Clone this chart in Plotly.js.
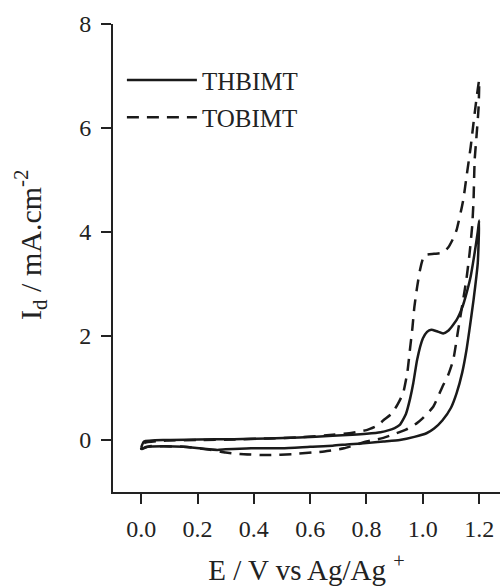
<!DOCTYPE html>
<html>
<head>
<meta charset="utf-8">
<script src="https://cdn.plot.ly/plotly-3.0.1.min.js"></script>
<style>html,body{margin:0;padding:0;background:#fff;}#chart{width:501px;height:586px;}</style>
</head>
<body>
<div id="chart"></div>
<script>
// THBIMT (solid) cyclic voltammogram: forward scan then return scan
var thbimtE = [0.0, 0.01, 0.09, 0.2, 0.33, 0.45, 0.56, 0.68, 0.75, 0.8, 0.85, 0.88, 0.9, 0.918, 0.94, 0.955, 0.966, 0.98, 1.0, 1.015, 1.03, 1.05, 1.072, 1.09, 1.12, 1.14, 1.155, 1.17, 1.184, 1.195, 1.2,
  1.195, 1.18, 1.165, 1.155, 1.14, 1.12, 1.1, 1.07, 1.04, 1.013, 0.97, 0.918, 0.86, 0.8, 0.74, 0.68, 0.6, 0.5, 0.39, 0.3, 0.27, 0.21, 0.15, 0.08, 0.02, 0.0];
var thbimtI = [-0.15, -0.03, 0.0, 0.01, 0.015, 0.03, 0.05, 0.08, 0.1, 0.12, 0.15, 0.19, 0.23, 0.29, 0.5, 0.8, 1.09, 1.55, 1.95, 2.08, 2.12, 2.09, 2.05, 2.1, 2.31, 2.55, 2.82, 3.15, 3.6, 4.0, 4.22,
  3.4, 2.69, 2.1, 1.73, 1.3, 0.9, 0.62, 0.38, 0.22, 0.13, 0.06, 0.0, -0.03, -0.06, -0.08, -0.11, -0.13, -0.16, -0.16, -0.18, -0.19, -0.16, -0.13, -0.12, -0.13, -0.18];

// TOBIMT (dashed)
var tobimtE = [0.0, 0.01, 0.09, 0.2, 0.33, 0.45, 0.56, 0.68, 0.75, 0.8, 0.84, 0.86, 0.89, 0.91, 0.93, 0.945, 0.954, 0.963, 0.97, 0.98, 0.99, 1.0, 1.01, 1.04, 1.07, 1.09, 1.11, 1.12, 1.143, 1.155, 1.17, 1.18, 1.19, 1.2,
  1.198, 1.19, 1.184, 1.18, 1.175, 1.166, 1.155, 1.143, 1.125, 1.108, 1.09, 1.07, 1.037, 1.0, 0.978, 0.94, 0.907, 0.86, 0.8, 0.72, 0.65, 0.54, 0.45, 0.35, 0.3, 0.245, 0.15, 0.08, 0.03, 0.0];
var tobimtI = [-0.17, -0.06, -0.01, 0.0, 0.01, 0.03, 0.05, 0.1, 0.14, 0.19, 0.28, 0.38, 0.51, 0.68, 0.9, 1.3, 1.73, 2.15, 2.56, 2.95, 3.27, 3.48, 3.56, 3.58, 3.6, 3.7, 3.9, 4.04, 4.6, 5.06, 5.64, 6.1, 6.54, 6.92,
  6.4, 5.8, 5.38, 4.6, 4.1, 3.59, 3.1, 2.69, 2.1, 1.54, 1.25, 1.03, 0.64, 0.42, 0.32, 0.2, 0.13, 0.04, -0.03, -0.16, -0.22, -0.27, -0.29, -0.27, -0.24, -0.19, -0.13, -0.12, -0.12, -0.17];

var xTickVals = [0.0, 0.2, 0.4, 0.6, 0.8, 1.0, 1.2];
var xTickText = ['0.0', '0.2', '0.4', '0.6', '0.8', '1.0', '1.2'];
var yTickVals = [0, 2, 4, 6, 8];
var yTickText = ['0', '2', '4', '6', '8'];

var FONT = "'Liberation Serif', 'Times New Roman', serif";

var traces = [
  {x: thbimtE, y: thbimtI, name: 'THBIMT', type: 'scatter', mode: 'lines',
   line: {color: '#1a1a1a', width: 2.5, shape: 'spline', smoothing: 0.5}, legend: 'legend'},
  {x: tobimtE, y: tobimtI, name: 'TOBIMT', type: 'scatter', mode: 'lines',
   line: {color: '#1a1a1a', width: 2.5, dash: '12px,8px', shape: 'spline', smoothing: 0.5}, legend: 'legend2'}
];

var layout = {
  width: 501, height: 586,
  margin: {l: 113, r: 1, t: 24, b: 94, pad: 0},
  paper_bgcolor: '#fff', plot_bgcolor: '#fff',
  font: {family: FONT, size: 22, color: '#222'},
  showlegend: true,
  xaxis: {
    range: [-0.1, 1.274], showgrid: false, zeroline: false,
    showline: true, linecolor: '#222', linewidth: 2,
    ticks: 'outside', ticklen: 10, tickwidth: 2, tickcolor: '#222',
    ticklabelstandoff: 4,
    tickvals: xTickVals, ticktext: xTickText,
    tickfont: {family: FONT, size: 24, color: '#222'},
    title: {text: 'E / V vs Ag/Ag <sup>+</sup>', font: {family: FONT, size: 29, color: '#222'}}
  },
  yaxis: {
    range: [-1, 8], showgrid: false, zeroline: false,
    showline: true, linecolor: '#222', linewidth: 2,
    ticks: 'outside', ticklen: 10, tickwidth: 2, tickcolor: '#222',
    ticklabelstandoff: 5,
    tickvals: yTickVals, ticktext: yTickText,
    tickfont: {family: FONT, size: 24, color: '#222'}
  },
  annotations: [{
    text: 'I<sub>d</sub> / mA.cm<sup>-2</sup>', textangle: -90,
    xref: 'paper', yref: 'paper', x: -0.212, y: 0.53, xanchor: 'center', yanchor: 'middle',
    showarrow: false, font: {family: FONT, size: 30, color: '#222'}
  }],
  legend: {x: 0.023, y: 0.88, xanchor: 'left', yanchor: 'middle', bgcolor: 'rgba(0,0,0,0)',
    itemwidth: 70, font: {family: FONT, size: 25, color: '#222'}, borderwidth: 0},
  legend2: {x: 0.023, y: 0.80, xanchor: 'left', yanchor: 'middle', bgcolor: 'rgba(0,0,0,0)',
    itemwidth: 70, font: {family: FONT, size: 25, color: '#222'}, borderwidth: 0}
};

Plotly.newPlot('chart', traces, layout, {displayModeBar: false, staticPlot: true});
</script>
</body>
</html>
